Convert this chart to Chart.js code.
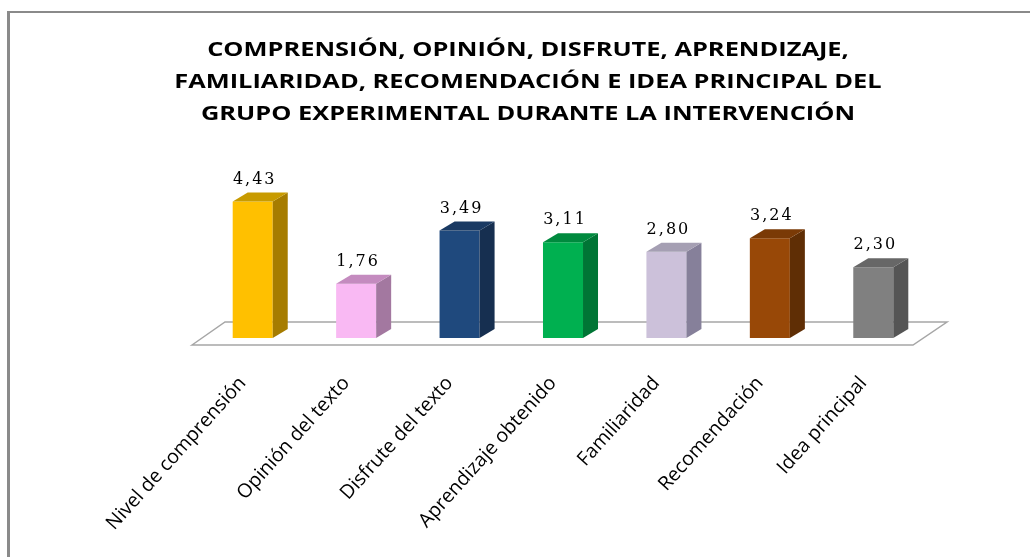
<!DOCTYPE html>
<html>
<head>
<meta charset="utf-8">
<script src="https://cdn.jsdelivr.net/npm/chart.js@4"></script>
<style>
  html, body { margin: 0; padding: 0; background: #fff; }
  #wrap { position: relative; width: 1030px; height: 557px; overflow: hidden; }
  #frame {
    position: absolute; left: 7px; top: 11px; width: 1100px; height: 600px;
    border-top: 2px solid #8a8a8a; border-left: 3px solid #8a8a8a;
  }
  #title {
    position: absolute; left: 128px; top: 33px; width: 800px;
    text-align: center; font-family: "Open Sans", sans-serif; font-weight: bold;
    font-size: 20px; line-height: 32px; color: #000;
    transform: scaleX(1.27); transform-origin: 400px 0;
  }
  canvas { position: absolute; left: 0; top: 0; }
</style>
</head>
<body>
<div id="wrap">
  <div id="frame"></div>
  <canvas id="chart" width="1030" height="557"></canvas>
  <div id="title">COMPRENSIÓN, OPINIÓN, DISFRUTE, APRENDIZAJE,<br>FAMILIARIDAD, RECOMENDACIÓN E IDEA PRINCIPAL DEL<br>GRUPO EXPERIMENTAL DURANTE LA INTERVENCIÓN</div>
</div>
<script>
const categories = ["Nivel de comprensión", "Opinión del texto", "Disfrute del texto", "Aprendizaje obtenido", "Familiaridad", "Recomendación", "Idea principal"];
const values = [4.43, 1.76, 3.49, 3.11, 2.80, 3.24, 2.30];
const frontColors = ["#FFC000", "#F9B9F3", "#1F497D", "#00B050", "#CCC1DA", "#984807", "#808080"];
const sideColors = ["#A67C00", "#A378A0", "#162F50", "#007535", "#86809A", "#5F2E05", "#555555"];
const topColors = ["#C89B00", "#C48BBF", "#1A3A63", "#008A3E", "#A59FB3", "#7A3A06", "#676767"];

const DX = 15, DY = 9;

// floor + 3D faces + value labels
const bar3d = {
    id: "bar3d",
    beforeDatasetsDraw(chart) {
        const a = chart.chartArea, c = chart.ctx;
        c.save();
        c.beginPath();
        c.moveTo(a.left - 9, a.bottom + 7);
        c.lineTo(a.left + 24, a.bottom - 16);
        c.lineTo(a.right + 22, a.bottom - 16);
        c.lineTo(a.right - 12, a.bottom + 7);
        c.closePath();
        c.fillStyle = "#ffffff";
        c.fill();
        c.strokeStyle = "#a6a6a6";
        c.lineWidth = 1.5;
        c.stroke();
        c.restore();
    },
    afterDatasetsDraw(chart) {
        const c = chart.ctx;
        const meta = chart.getDatasetMeta(0);
        c.save();
        meta.data.forEach((bar, i) => {
            const l = bar.x - bar.width / 2, r = bar.x + bar.width / 2;
            const t = bar.y, b = bar.base;
            c.fillStyle = sideColors[i];
            c.beginPath();
            c.moveTo(r, t); c.lineTo(r + DX, t - DY); c.lineTo(r + DX, b - DY); c.lineTo(r, b);
            c.closePath(); c.fill();
            c.fillStyle = topColors[i];
            c.beginPath();
            c.moveTo(l, t); c.lineTo(l + DX, t - DY); c.lineTo(r + DX, t - DY); c.lineTo(r, t);
            c.closePath(); c.fill();
            c.fillStyle = "#000";
            c.font = "16px 'DejaVu Serif'";
            c.letterSpacing = "2px";
            c.textAlign = "center";
            c.textBaseline = "middle";
            c.fillText(values[i].toFixed(2).replace(".", ","), bar.x + 2, t - 22);
        });
        c.restore();
    }
};

new Chart(document.getElementById("chart"), {
    type: "bar",
    data: {
        labels: categories,
        datasets: [{
            data: values,
            backgroundColor: frontColors,
            borderWidth: 0,
            barPercentage: 0.387,
            categoryPercentage: 1
        }]
    },
    options: {
        responsive: false,
        animation: false,
        layout: { padding: { left: 201, right: 105, top: 184, bottom: 0 } },
        plugins: {
            legend: { display: false },
            tooltip: { enabled: false },
            title: { display: false }
        },
        scales: {
            y: { display: false, min: 0, max: 5 },
            x: {
                grid: { display: false, drawTicks: false },
                border: { display: false },
                afterFit: (scale) => { scale.height = 219; },
                ticks: {
                    color: "#000",
                    font: { family: "'Open Sans'", size: 19.5 },
                    minRotation: 48,
                    maxRotation: 48,
                    autoSkip: false,
                    padding: 34,
                    labelOffset: -10
                }
            }
        }
    },
    plugins: [bar3d]
});
</script>
</body>
</html>
